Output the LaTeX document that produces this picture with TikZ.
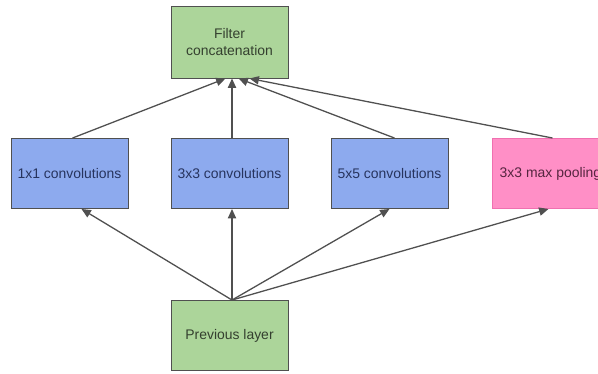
\documentclass[tikz,border=0pt]{standalone}
\usepackage{fontspec}
\setmainfont{Liberation Sans}
\usepackage{tikz}
\usetikzlibrary{arrows.meta, calc}
\usepackage{xcolor}
\definecolor{lgreen}{HTML}{ACD59A}
\definecolor{lblue}{HTML}{8DAAEE}
\definecolor{lpink}{HTML}{FF8FC6}
\definecolor{pinkline}{HTML}{F070B0}
\definecolor{edge}{HTML}{505050}
\definecolor{gtext}{HTML}{34402F}
\definecolor{btext}{HTML}{27345E}
\definecolor{ptext}{HTML}{55253F}

\begin{document}
\begin{tikzpicture}[
  x=0.03cm, y=-0.03cm,
  gnode/.style={rectangle, draw=edge, fill=lgreen, line width=0.8pt,
                minimum width=3.51cm, minimum height=2.1cm,
                align=center, text=gtext,
                font=\fontsize{11.9}{14.5}\selectfont},
  bnode/.style={gnode, fill=lblue, text=btext},
  pnode/.style={gnode, draw=pinkline, fill=lpink, text=ptext},
  arr/.style={-{Triangle[length=8pt, width=7pt]}, draw=edge, line width=1.1pt}
]
\useasboundingbox (0,0) rectangle (598,374);
\clip (0,0) rectangle (598,374);

\node[gnode, minimum height=2.16cm] (concat) at (229.5, 42) {Filter\\concatenation};
\node[bnode] (conv1) at (69.5, 173.5) {1x1 convolutions};
\node[bnode] (conv3) at (229.5, 173.5) {3x3 convolutions};
\node[bnode] (conv5) at (389.5, 173.5) {5x5 convolutions};
\node[pnode] (pool) at (550.5, 173.5) {3x3 max pooling};
\node[gnode] (prev) at (229.5, 335.5) {Previous layer};

% previous layer feeds every branch
\draw[arr] ($(prev.north)+(2.5,0)$) -- ($(conv1.south)+(12,0)$);
\draw[arr] ($(prev.north)+(2.5,0)$) -- ($(conv3.south)+(2.5,0)$);
\draw[arr] ($(prev.north)+(2.5,0)$) -- (conv5.south);
\draw[arr] ($(prev.north)+(2.5,0)$) -- ($(pool.south)+(-2,0)$);

% branches merge into the concatenation
\draw[arr] ($(conv1.north)+(3,0)$) -- ($(concat.south)+(-4,0)$);
\draw[arr] ($(conv3.north)+(2.5,0)$) -- ($(concat.south)+(2.5,0)$);
\draw[arr] ($(conv5.north)+(5,0)$) -- ($(concat.south)+(9,0)$);
\draw[arr] ($(pool.north)+(2,0)$) -- ($(concat.south)+(20,0)$);
\end{tikzpicture}
\end{document}
